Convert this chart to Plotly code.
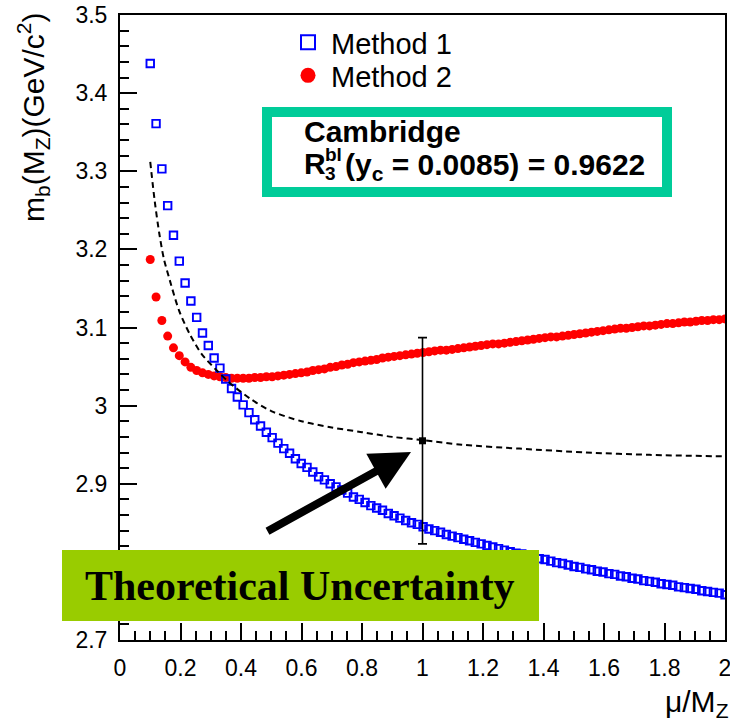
import plotly.graph_objects as go

# Renormalisation-scale scan: mu / M_Z
mu = [0.1000, 0.1192, 0.1384, 0.1576, 0.1768, 0.1960, 0.2152, 0.2343, 0.2535, 0.2727,
      0.2919, 0.3111, 0.3303, 0.3495, 0.3687, 0.3879, 0.4071, 0.4263, 0.4455, 0.4646,
      0.4838, 0.5030, 0.5222, 0.5414, 0.5606, 0.5798, 0.5990, 0.6182, 0.6374, 0.6566,
      0.6758, 0.6949, 0.7141, 0.7333, 0.7525, 0.7717, 0.7909, 0.8101, 0.8293, 0.8485,
      0.8677, 0.8869, 0.9061, 0.9253, 0.9444, 0.9636, 0.9828, 1.0020, 1.0212, 1.0404,
      1.0596, 1.0788, 1.0980, 1.1172, 1.1364, 1.1556, 1.1747, 1.1939, 1.2131, 1.2323,
      1.2515, 1.2707, 1.2899, 1.3091, 1.3283, 1.3475, 1.3667, 1.3859, 1.4051, 1.4242,
      1.4434, 1.4626, 1.4818, 1.5010, 1.5202, 1.5394, 1.5586, 1.5778, 1.5970, 1.6162,
      1.6354, 1.6545, 1.6737, 1.6929, 1.7121, 1.7313, 1.7505, 1.7697, 1.7889, 1.8081,
      1.8273, 1.8465, 1.8657, 1.8848, 1.9040, 1.9232, 1.9424, 1.9616, 1.9808, 2.0000]

# m_b(M_Z) in GeV/c^2, Method 1
mb_method1 = [3.438, 3.361, 3.303, 3.256, 3.218, 3.185, 3.157, 3.134, 3.113, 3.093,
              3.077, 3.061, 3.048, 3.034, 3.022, 3.011, 3.001, 2.991, 2.982, 2.974,
              2.966, 2.959, 2.952, 2.945, 2.939, 2.932, 2.926, 2.921, 2.915, 2.909,
              2.905, 2.900, 2.896, 2.892, 2.888, 2.883, 2.880, 2.876, 2.872, 2.869,
              2.866, 2.862, 2.859, 2.856, 2.853, 2.850, 2.848, 2.845, 2.842, 2.840,
              2.838, 2.835, 2.833, 2.831, 2.829, 2.827, 2.825, 2.823, 2.821, 2.819,
              2.817, 2.815, 2.813, 2.811, 2.810, 2.808, 2.806, 2.804, 2.803, 2.801,
              2.799, 2.798, 2.796, 2.794, 2.793, 2.791, 2.790, 2.788, 2.787, 2.785,
              2.784, 2.782, 2.781, 2.779, 2.778, 2.776, 2.775, 2.774, 2.772, 2.771,
              2.770, 2.768, 2.767, 2.766, 2.765, 2.763, 2.762, 2.761, 2.760, 2.758]

# m_b(M_Z) in GeV/c^2, Method 2
mb_method2 = [3.187, 3.139, 3.109, 3.089, 3.074, 3.064, 3.056, 3.049, 3.045, 3.042,
              3.040, 3.038, 3.037, 3.036, 3.035, 3.035, 3.035, 3.035, 3.036, 3.036,
              3.037, 3.037, 3.038, 3.039, 3.040, 3.041, 3.042, 3.043, 3.045, 3.046,
              3.047, 3.049, 3.050, 3.052, 3.053, 3.055, 3.056, 3.057, 3.058, 3.059,
              3.061, 3.062, 3.063, 3.064, 3.065, 3.066, 3.067, 3.068, 3.069, 3.070,
              3.071, 3.071, 3.072, 3.073, 3.074, 3.075, 3.076, 3.077, 3.078, 3.079,
              3.079, 3.080, 3.081, 3.082, 3.083, 3.084, 3.085, 3.086, 3.087, 3.088,
              3.088, 3.089, 3.090, 3.091, 3.092, 3.093, 3.094, 3.095, 3.096, 3.097,
              3.098, 3.099, 3.099, 3.100, 3.101, 3.102, 3.102, 3.103, 3.104, 3.105,
              3.105, 3.106, 3.107, 3.107, 3.108, 3.109, 3.109, 3.110, 3.110, 3.111]

# Average of the two methods (dashed curve)
mu_avg = [0.100, 0.115, 0.130, 0.145, 0.165, 0.195, 0.230, 0.270, 0.320, 0.360, 0.430,
          0.500, 0.600, 0.700, 0.800, 0.900, 1.000, 1.130, 1.320, 1.540, 1.750, 2.000]
mb_avg = [3.312, 3.261, 3.220, 3.188, 3.160, 3.122, 3.092, 3.066, 3.045, 3.030, 3.009,
          2.993, 2.980, 2.972, 2.966, 2.960, 2.956, 2.950, 2.945, 2.940, 2.937, 2.935]

# Central value at mu = M_Z with theoretical uncertainty
mu_ref = [1.0]
mb_ref = [2.955]
mb_ref_err_up = [0.132]
mb_ref_err_down = [0.132]

x_ticks = [0, 0.2, 0.4, 0.6, 0.8, 1, 1.2, 1.4, 1.6, 1.8, 2]
y_ticks = [2.7, 2.8, 2.9, 3, 3.1, 3.2, 3.3, 3.4, 3.5]

W, H = 730, 723
ML, MR, MT, MB = 120, 5, 15, 83
PW, PH = W - ML - MR, H - MT - MB


def px(x):
    return (x - ML) / PW


def py(y):
    return (H - MB - y) / PH


SANS = "Liberation Sans, Arial, Helvetica, sans-serif"
SERIF = "Liberation Serif, Times New Roman, serif"
BLUE = "#0000ff"
RED = "#ff0000"

fig = go.Figure()

fig.add_trace(go.Scatter(
    x=mu, y=mb_method2, mode="markers", showlegend=False,
    marker=dict(symbol="circle", size=9, color=RED, line=dict(width=0))))
fig.add_trace(go.Scatter(
    x=mu, y=mb_method1, mode="markers", showlegend=False,
    marker=dict(symbol="square-open", size=7.5, color=BLUE, line=dict(width=1.9, color=BLUE))))
fig.add_trace(go.Scatter(
    x=mu_avg, y=mb_avg, mode="lines", showlegend=False,
    line=dict(color="black", width=2, dash="6px,4px", shape="spline", smoothing=0.8)))
fig.add_trace(go.Scatter(
    x=mu_ref, y=mb_ref, mode="markers", showlegend=False,
    marker=dict(symbol="square", size=7, color="black"),
    error_y=dict(type="data", symmetric=False, array=mb_ref_err_up,
                 arrayminus=mb_ref_err_down, color="black", thickness=1.6, width=4.5)))

# legend entries
fig.add_trace(go.Scatter(
    x=[None], y=[None], mode="markers", name="Method 1", legend="legend",
    marker=dict(symbol="square-open", size=14, color=BLUE, line=dict(width=2, color=BLUE))))
fig.add_trace(go.Scatter(
    x=[None], y=[None], mode="markers", name="Method 2", legend="legend2",
    marker=dict(symbol="circle", size=15, color=RED)))

axis_common = dict(
    showgrid=False, zeroline=False, showline=True, linecolor="black", linewidth=2,
    mirror=True, ticks="inside", ticklen=17, tickwidth=1.6, tickcolor="black",
    tickfont=dict(family=SANS, size=23, color="black"), ticklabelstandoff=6,
    automargin=False, ticklabeloverflow="allow",
)

fig.update_xaxes(range=[0, 2], tickvals=x_ticks, ticktext=[f"{v:g}" for v in x_ticks],
                 minor=dict(dtick=0.05, tick0=0, ticks="inside", ticklen=9,
                            tickwidth=1.6, tickcolor="black"),
                 **axis_common)
fig.update_yaxes(range=[2.7, 3.5], tickvals=y_ticks, ticktext=[f"{v:g}" for v in y_ticks],
                 minor=dict(dtick=0.02, tick0=2.7, ticks="inside", ticklen=9,
                            tickwidth=1.6, tickcolor="black"),
                 **axis_common)

shapes = [
    # frame around the fit-result text
    dict(type="rect", xref="paper", yref="paper",
         x0=px(267), x1=px(667), y0=py(192), y1=py(112),
         line=dict(color="#00cc99", width=10), fillcolor="white", layer="above"),
    # label panel
    dict(type="rect", xref="paper", yref="paper",
         x0=px(62), x1=px(539), y0=py(621), y1=py(550),
         line=dict(width=0), fillcolor="#99cc00", layer="above"),
]

annotations = [
    dict(text="m<sub>b</sub>(M<sub>Z</sub>)(GeV/c<sup>2</sup>)", textangle=-90,
         xref="paper", yref="paper", x=px(33), y=py(10), xanchor="center", yanchor="top",
         showarrow=False, font=dict(family=SANS, size=30, color="black")),
    dict(text="\u03bc/M<sub>Z</sub>", xref="paper", yref="paper",
         x=px(731), y=py(703), xanchor="right", yanchor="middle",
         showarrow=False, font=dict(family=SANS, size=30, color="black")),
    dict(text="<b>Cambridge</b>", xref="paper", yref="paper",
         x=px(302), y=py(131), xanchor="left", yanchor="middle",
         showarrow=False, font=dict(family=SANS, size=30, color="black")),
    dict(text="<b>R</b>", xref="paper", yref="paper",
         x=px(302), y=py(163), xanchor="left", yanchor="middle",
         showarrow=False, font=dict(family=SANS, size=30, color="black")),
    dict(text="<b>bl</b>", xref="paper", yref="paper",
         x=px(323), y=py(155), xanchor="left", yanchor="middle",
         showarrow=False, font=dict(family=SANS, size=19, color="black")),
    dict(text="<b>3</b>", xref="paper", yref="paper",
         x=px(323), y=py(174), xanchor="left", yanchor="middle",
         showarrow=False, font=dict(family=SANS, size=19, color="black")),
    dict(text="<b>(y<sub>c</sub> = 0.0085) = 0.9622</b>", xref="paper", yref="paper",
         x=px(343), y=py(166), xanchor="left", yanchor="middle",
         showarrow=False, font=dict(family=SANS, size=30, color="black")),
    dict(text="<b>Theoretical Uncertainty</b>", xref="paper", yref="paper",
         x=px(300), y=py(586), xanchor="center", yanchor="middle",
         showarrow=False, font=dict(family=SERIF, size=42, color="black")),
    # arrow pointing at the central value
    dict(text="", xref="paper", yref="paper", x=px(411), y=py(452),
         ax=-145, ay=80, axref="pixel", ayref="pixel",
         showarrow=True, arrowhead=2, arrowsize=1.0, arrowwidth=8, arrowcolor="black",
         standoff=0),
]

legend_style = dict(xanchor="left", yanchor="top", bgcolor="rgba(0,0,0,0)",
                    borderwidth=0, itemwidth=36, tracegroupgap=0,
                    font=dict(family=SANS, size=29, color="black"))

fig.update_layout(
    width=W, height=H,
    margin=dict(l=ML, r=MR, t=MT, b=MB, pad=0),
    paper_bgcolor="white", plot_bgcolor="white",
    shapes=shapes, annotations=annotations,
    legend=dict(x=px(285), y=py(17), **legend_style),
    legend2=dict(x=px(285), y=py(50), **legend_style),
)

fig.write_html("out.html", config={"displayModeBar": False})
